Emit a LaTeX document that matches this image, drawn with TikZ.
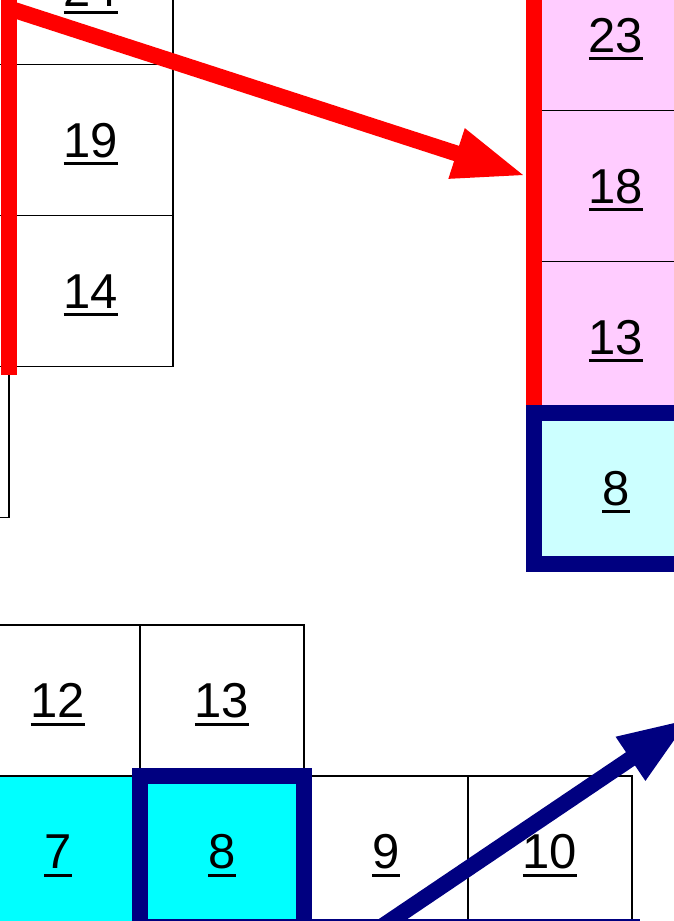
\documentclass[tikz,border=0pt]{standalone}
\usepackage{fontspec}
\setmainfont{Liberation Sans}
\usepackage{xcolor}
\usetikzlibrary{arrows.meta, positioning}
\definecolor{CellPink}{HTML}{FFCCFF}
\definecolor{CellCyan}{HTML}{00FFFF}
\definecolor{PaleCyan}{HTML}{CCFFFF}
\definecolor{DeepNavy}{HTML}{000080}
\definecolor{PureRed}{HTML}{FF0000}
% underlined cell number
\newcommand{\unum}[1]{\setbox0\hbox{#1}\vtop{\copy0\kern5pt\hrule height 3pt width \wd0}}
\tikzset{
    cell/.style={draw=black, line width=1.5pt, minimum width=164pt, minimum height=151pt,
        inner sep=0pt, outer sep=0pt, text height=42pt, text depth=8pt,
        font=\fontsize{49}{58}\selectfont},
    navybox/.style={draw=DeepNavy, line width=16pt},
    redline/.style={draw=PureRed, line width=16pt},
    bigarrow/.style={line width=16pt, -{Triangle[length=73pt, width=48pt]}},
}

\begin{document}
\begin{tikzpicture}[x=1pt, y=-1pt]
    \useasboundingbox (0,0) rectangle (674,921);
    \clip (0,0) rectangle (674,921);

    % left block, upper part
    \node[cell] (c19) at (91,140) {\unum{19}};
    \node[cell, above=0pt of c19] (c24) {\unum{24}};
    \node[cell, below=0pt of c19] (c14) {\unum{14}};
    \node[cell, left=0pt of c19] (l19) {};
    \node[cell, below=0pt of l19] (l14) {};
    \node[cell, below=0pt of l14] (l9) {};

    % right column (received)
    \node[cell, fill=CellPink] (r18) at (616,186) {\unum{18}};
    \node[cell, fill=CellPink, above=0pt of r18] (r23) {\unum{23}};
    \node[cell, fill=CellPink, below=0pt of r18] (r13) {\unum{13}};
    \draw[redline] (r23.north west) -- (r13.south west);
    \node[cell, navybox, fill=PaleCyan, below=0pt of r13] (r8) {\unum{8}};

    % lower block
    \node[cell] (b12) at (58,700.5) {\unum{12}};
    \node[cell, right=0pt of b12] (b13) {\unum{13}};
    \node[cell, fill=CellCyan, below=0pt of b12] (b7) {\unum{7}};
    \node[cell, right=0pt of b13.south east, anchor=north west] (b9) {\unum{9}};
    \node[cell, right=0pt of b9] (b10) {\unum{10}};
    \draw[navybox] (b9.south west) rectangle ([yshift=-151pt]b10.south east);
    \node[cell, navybox, fill=CellCyan, right=0pt of b7] (b8) {\unum{8}};

    % sent column
    \draw[redline, line cap=rect] (c24.north west) -- (c14.south west);
    \coordinate (redtail) at (8,8);
    \coordinate (redtip) at (526,176);
    \draw[bigarrow, PureRed] (redtail) -- (redtip);

    \coordinate (navytail) at (362,940);
    \coordinate (navytip) at (691,718);
    \draw[bigarrow, DeepNavy] (navytail) -- (navytip);
\end{tikzpicture}
\end{document}
